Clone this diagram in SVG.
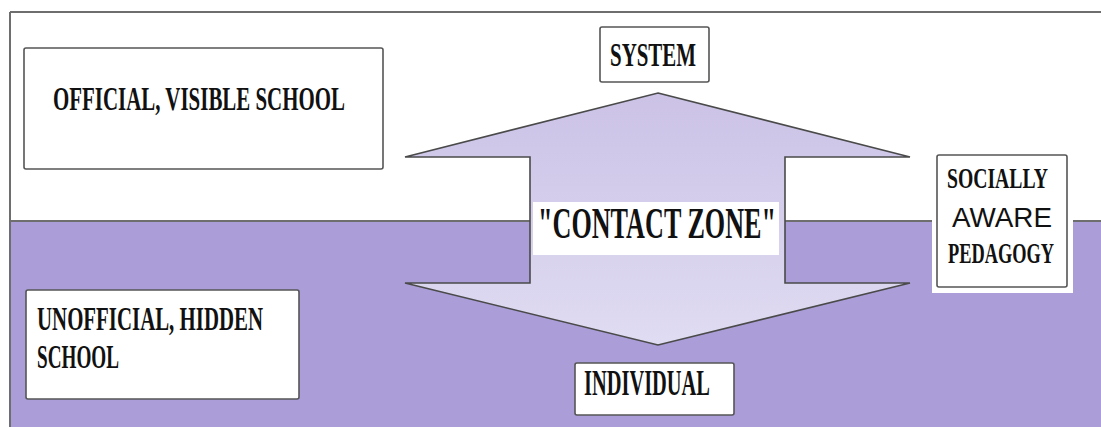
<svg xmlns="http://www.w3.org/2000/svg" width="1101" height="427" viewBox="0 0 1101 427">
  <defs>
    <linearGradient id="arrowFill" x1="0" y1="0" x2="0" y2="1">
      <stop offset="0" stop-color="#cbc2e6"/>
      <stop offset="1" stop-color="#e0dcf2"/>
    </linearGradient>
    <style>
      .box { fill: #ffffff; stroke: #555555; stroke-width: 1.6; }
      .lbl { font-family: "Liberation Serif", "DejaVu Serif", serif; font-weight: bold; fill: #111111; }
      .sans { font-family: "Liberation Sans", Arial, sans-serif; fill: #111111; }
      .frame { fill: none; stroke: #6e6e6e; stroke-width: 2; }
    </style>
  </defs>

  <g id="background">
    <rect x="0" y="0" width="1101" height="427" fill="#ffffff"/>
    <rect x="10" y="221" width="1091" height="206" fill="#ab9dd8"/>
    <line class="frame" x1="10" y1="12" x2="1101" y2="12"/>
    <line class="frame" x1="10" y1="12" x2="10" y2="427"/>
    <line class="frame" x1="10" y1="221" x2="1101" y2="221"/>
  </g>

  <g id="connectors">
    <polygon points="658,93 910,157 785,157 785,283 910,283 658,345 405,283 530,283 530,157 405,157" fill="url(#arrowFill)" stroke="#4a4a4a" stroke-width="1.6" stroke-linejoin="miter"/>
  </g>

  <g id="contact-zone">
    <rect x="533" y="202" width="246" height="53" fill="#ffffff"/>
    <text class="lbl" x="538" y="238" font-size="44" textLength="238" lengthAdjust="spacingAndGlyphs">"CONTACT ZONE"</text>
  </g>

  <g id="official">
    <rect class="box" x="24" y="48" width="359" height="121" rx="2"/>
    <text class="lbl" x="53" y="110" font-size="34" textLength="292" lengthAdjust="spacingAndGlyphs">OFFICIAL, VISIBLE SCHOOL</text>
  </g>

  <g id="unofficial">
    <rect class="box" x="26" y="290" width="273" height="109" rx="2"/>
    <text class="lbl" x="37" y="330" font-size="33" textLength="226" lengthAdjust="spacingAndGlyphs">UNOFFICIAL, HIDDEN</text>
    <text class="lbl" x="37" y="368" font-size="33" textLength="82" lengthAdjust="spacingAndGlyphs">SCHOOL</text>
  </g>

  <g id="system">
    <rect class="box" x="600" y="27" width="109" height="55" rx="2"/>
    <text class="lbl" x="610" y="66" font-size="34" textLength="86" lengthAdjust="spacingAndGlyphs">SYSTEM</text>
  </g>

  <g id="individual">
    <rect class="box" x="575" y="363" width="159" height="52" rx="2"/>
    <text class="lbl" x="584" y="395" font-size="36" textLength="126" lengthAdjust="spacingAndGlyphs">INDIVIDUAL</text>
  </g>

  <g id="socially-aware-pedagogy">
    <rect x="932" y="150" width="141" height="143" fill="#ffffff"/>
    <rect class="box" x="937" y="155" width="130" height="132" rx="2"/>
    <text class="lbl" x="947" y="188" font-size="30" textLength="101" lengthAdjust="spacingAndGlyphs">SOCIALLY</text>
    <text class="sans" x="952" y="227" font-size="28" textLength="100" lengthAdjust="spacingAndGlyphs">AWARE</text>
    <text class="lbl" x="948" y="263" font-size="29" textLength="106" lengthAdjust="spacingAndGlyphs">PEDAGOGY</text>
  </g>
</svg>
